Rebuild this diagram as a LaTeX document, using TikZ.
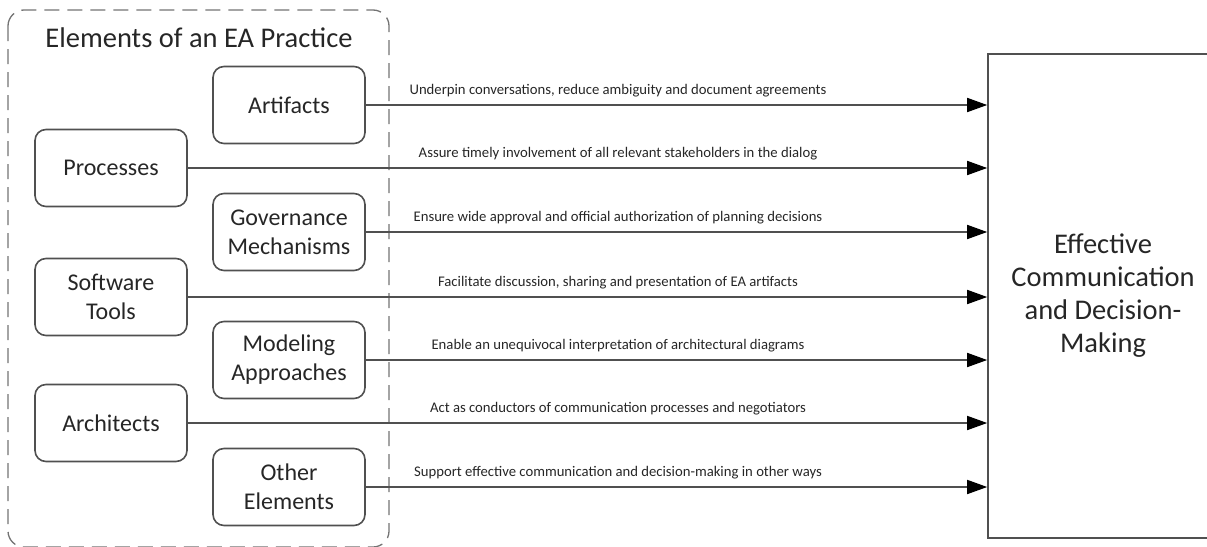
\documentclass[tikz,border=0pt]{standalone}
\usepackage{fontspec}
\setmainfont{Carlito}
\usetikzlibrary{arrows.meta}
\definecolor{edgegray}{HTML}{505050}
\definecolor{inkgray}{HTML}{262626}
\begin{document}
\begin{tikzpicture}[x=1pt,y=-1pt,
  elembox/.style={draw=edgegray, line width=1.6pt, rounded corners=11pt,
    minimum width=152pt, minimum height=77pt, inner sep=0pt, align=center,
    text=inkgray, font=\fontsize{24}{29}\selectfont},
  goalbox/.style={draw=edgegray, line width=1.6pt, minimum width=230pt,
    minimum height=484pt, inner sep=0pt, align=center, text=inkgray,
    font=\fontsize{28.5}{33}\selectfont},
  flow/.style={draw=edgegray, line width=1.6pt,
    -{Triangle[length=20pt,width=14pt,color=black]}},
  flowlabel/.style={anchor=base, inner sep=0pt, text=inkgray,
    font=\fontsize{14.7}{17}\selectfont},
  groupframe/.style={draw=edgegray!80, line width=1.3pt,
    dash pattern=on 15pt off 8pt, rounded corners=16pt}
]
\useasboundingbox (0,0) rectangle (1207,546);

% dashed frame around the practice elements
\draw[groupframe] (8,10) rectangle (389,547);
\node[anchor=base, inner sep=0pt, text=inkgray,
  font=\fontsize{28.5}{33}\selectfont] (title) at (199,47) {Elements of an EA Practice};

% elements
\node[elembox] (art)  at (289,105) {Artifacts};
\node[elembox] (proc) at (111,168) {Processes};
\node[elembox] (gov)  at (289,232) {Governance\\Mechanisms};
\node[elembox] (soft) at (111,297) {Software\\Tools};
\node[elembox] (mod)  at (289,360) {Modeling\\Approaches};
\node[elembox] (arch) at (111,423) {Architects};
\node[elembox] (oth)  at (289,487) {Other\\Elements};

% outcome
\node[goalbox] (goal) at (1103,296) {Effective\\Communication\\and Decision-\\Making};

% contributions
\foreach \src in {art,proc,gov,soft,mod,arch,oth}
  \draw[flow] (\src.east) -- (\src.east -| goal.west);

\node[flowlabel] (l1) at (618,94)  {Underpin conversations, reduce ambiguity and document agreements};
\node[flowlabel] (l2) at (618,157) {Assure timely involvement of all relevant stakeholders in the dialog};
\node[flowlabel] (l3) at (618,221) {Ensure wide approval and official authorization of planning decisions};
\node[flowlabel] (l4) at (618,286) {Facilitate discussion, sharing and presentation of EA artifacts};
\node[flowlabel] (l5) at (618,349) {Enable an unequivocal interpretation of architectural diagrams};
\node[flowlabel] (l6) at (618,412) {Act as conductors of communication processes and negotiators};
\node[flowlabel] (l7) at (618,476) {Support effective communication and decision-making in other ways};
\end{tikzpicture}
\end{document}
